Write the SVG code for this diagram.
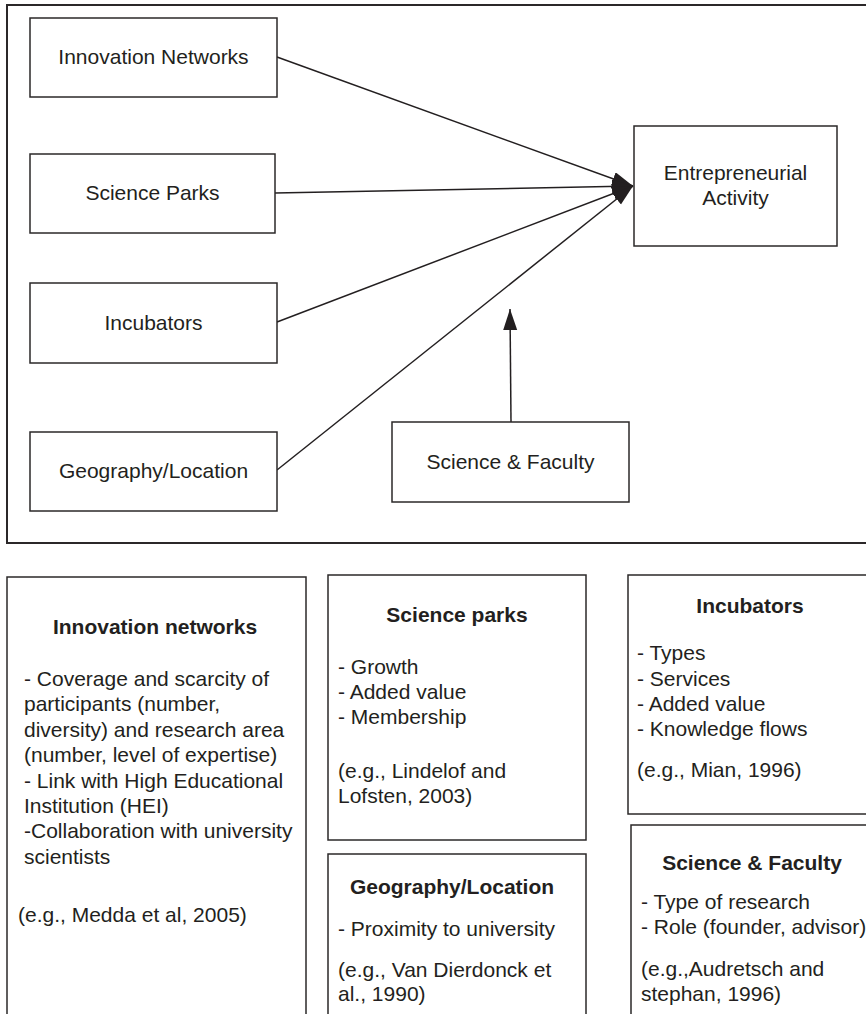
<svg xmlns="http://www.w3.org/2000/svg" width="866" height="1014" viewBox="0 0 866 1014">
<defs>
<style>
.frame{fill:none;stroke:#2b2829;stroke-width:2}
.box{fill:#fff;stroke:#2b2829;stroke-width:1.5}
.lbl{font-family:"Liberation Sans",Arial,Helvetica,sans-serif;font-size:21px;fill:#231f20;text-anchor:middle}
.ttl{font-family:"Liberation Sans",Arial,Helvetica,sans-serif;font-size:21px;font-weight:bold;fill:#231f20;text-anchor:middle}
.body{font-family:"Liberation Sans",Arial,Helvetica,sans-serif;font-size:21px;fill:#231f20}
.conn{fill:none;stroke:#231f20;stroke-width:1.5}
</style>
<marker id="arr" markerUnits="userSpaceOnUse" markerWidth="22" markerHeight="16" refX="21" refY="7" orient="auto">
<path d="M0,0 L21,7 L0,14 z" fill="#231f20"/>
</marker>
</defs>
<rect width="866" height="1014" fill="#fff"/>
<rect class="frame" x="7" y="5" width="880" height="538"/>

<g id="connectors">
<line class="conn" x1="277" y1="57" x2="633" y2="186" marker-end="url(#arr)"/>
<line class="conn" x1="275" y1="193" x2="633" y2="186" marker-end="url(#arr)"/>
<line class="conn" x1="277" y1="322" x2="633" y2="186" marker-end="url(#arr)"/>
<line class="conn" x1="277" y1="470" x2="633" y2="186" marker-end="url(#arr)"/>
<line class="conn" x1="511" y1="422" x2="510" y2="309" marker-end="url(#arr)"/>
</g>

<g id="node-innovation-networks">
<rect class="box" x="30" y="18" width="247" height="79"/>
<text class="lbl" x="153.5" y="64">Innovation Networks</text>
</g>
<g id="node-science-parks">
<rect class="box" x="30" y="154" width="245" height="79"/>
<text class="lbl" x="152.5" y="200">Science Parks</text>
</g>
<g id="node-incubators">
<rect class="box" x="30" y="283" width="247" height="80"/>
<text class="lbl" x="153.5" y="330">Incubators</text>
</g>
<g id="node-geography">
<rect class="box" x="30" y="432" width="247" height="79"/>
<text class="lbl" x="153.5" y="478">Geography/Location</text>
</g>
<g id="node-entrepreneurial-activity">
<rect class="box" x="634" y="126" width="203" height="120"/>
<text class="lbl" x="735.5" y="180">Entrepreneurial</text>
<text class="lbl" x="735.5" y="205">Activity</text>
</g>
<g id="node-science-faculty">
<rect class="box" x="392" y="422" width="237" height="80"/>
<text class="lbl" x="510.5" y="469">Science &amp; Faculty</text>
</g>

<g id="panel-innovation-networks">
<rect class="box" x="7" y="577" width="299" height="460"/>
<text class="ttl" x="155" y="634">Innovation networks</text>
<text class="body" x="24" y="686">- Coverage and scarcity of</text>
<text class="body" x="24" y="711">participants (number,</text>
<text class="body" x="24" y="737">diversity) and research area</text>
<text class="body" x="24" y="762">(number, level of expertise)</text>
<text class="body" x="24" y="788">- Link with High Educational</text>
<text class="body" x="24" y="813">Institution (HEI)</text>
<text class="body" x="24" y="838">-Collaboration with university</text>
<text class="body" x="24" y="864">scientists</text>
<text class="body" x="18" y="922">(e.g., Medda et al, 2005)</text>
</g>
<g id="panel-science-parks">
<rect class="box" x="328" y="575" width="258" height="265"/>
<text class="ttl" x="457" y="622">Science parks</text>
<text class="body" x="338" y="674">- Growth</text>
<text class="body" x="338" y="699">- Added value</text>
<text class="body" x="338" y="724">- Membership</text>
<text class="body" x="338" y="778">(e.g., Lindelof and</text>
<text class="body" x="338" y="803">Lofsten, 2003)</text>
</g>
<g id="panel-geography">
<rect class="box" x="328" y="854" width="258" height="180"/>
<text class="ttl" x="452" y="894">Geography/Location</text>
<text class="body" x="338" y="936">- Proximity to university</text>
<text class="body" x="338" y="977">(e.g., Van Dierdonck et</text>
<text class="body" x="338" y="1001">al., 1990)</text>
</g>
<g id="panel-incubators">
<rect class="box" x="628" y="575" width="250" height="239"/>
<text class="ttl" x="750" y="613">Incubators</text>
<text class="body" x="637" y="660">- Types</text>
<text class="body" x="637" y="686">- Services</text>
<text class="body" x="637" y="711">- Added value</text>
<text class="body" x="637" y="736">- Knowledge flows</text>
<text class="body" x="637" y="777">(e.g., Mian, 1996)</text>
</g>
<g id="panel-science-faculty">
<rect class="box" x="631" y="825" width="250" height="210"/>
<text class="ttl" x="752" y="870">Science &amp; Faculty</text>
<text class="body" x="641" y="909">- Type of research</text>
<text class="body" x="641" y="934">- Role (founder, advisor)</text>
<text class="body" x="641" y="976">(e.g.,Audretsch and</text>
<text class="body" x="641" y="1001">stephan, 1996)</text>
</g>
</svg>
